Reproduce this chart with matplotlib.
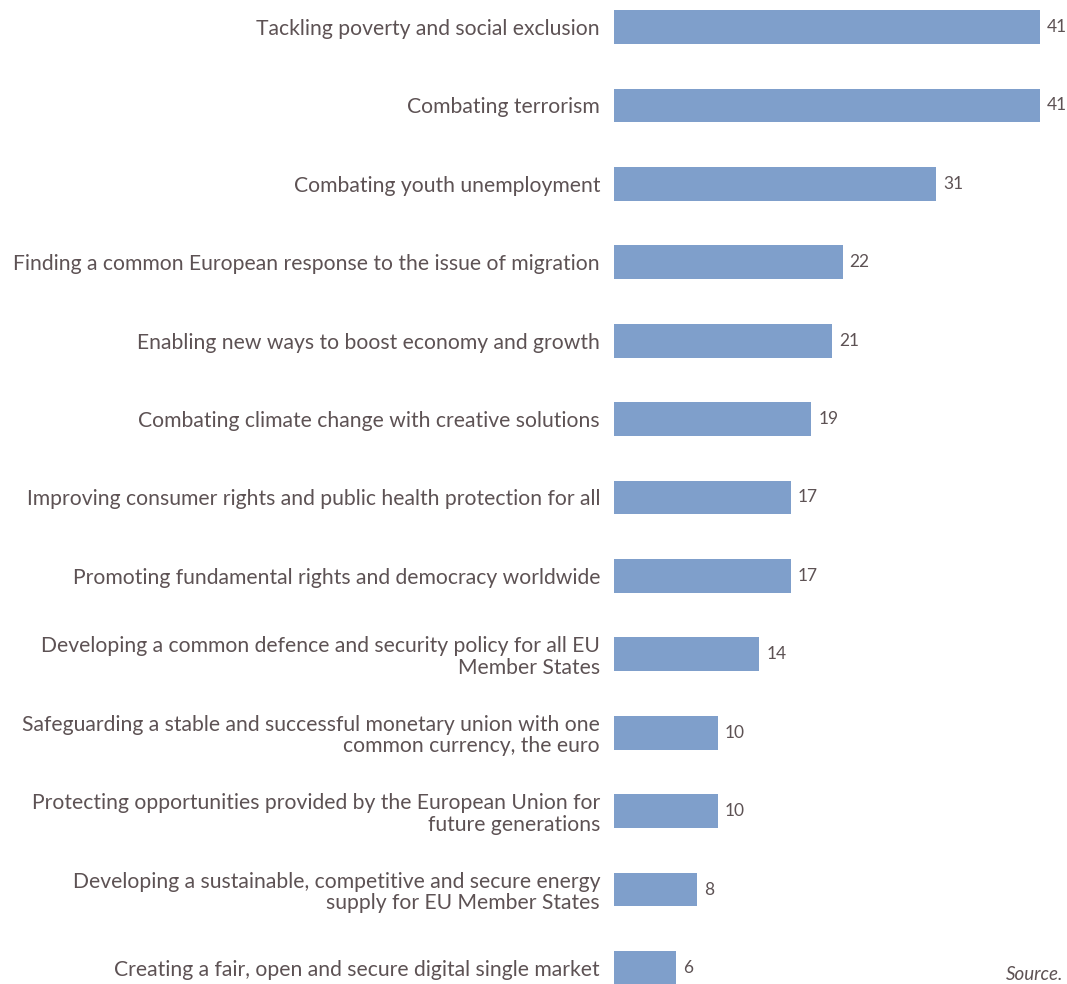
import matplotlib.pyplot as plt

categories = [
    "Tackling poverty and social exclusion",
    "Combating terrorism",
    "Combating youth unemployment",
    "Finding a common European response to the issue of migration",
    "Enabling new ways to boost economy and growth",
    "Combating climate change with creative solutions",
    "Improving consumer rights and public health protection for all",
    "Promoting fundamental rights and democracy worldwide",
    "Developing a common defence and security policy for all EU\nMember States",
    "Safeguarding a stable and successful monetary union with one\ncommon currency, the euro",
    "Protecting opportunities provided by the European Union for\nfuture generations",
    "Developing a sustainable, competitive and secure energy\nsupply for EU Member States",
    "Creating a fair, open and secure digital single market",
]
values = [41, 41, 31, 22, 21, 19, 17, 17, 14, 10, 10, 8, 6]

bar_color = "#7f9fcb"
text_color = "#5d5254"

plt.rcParams['font.family'] = ['Lato', 'DejaVu Sans']

fig = plt.figure(figsize=(10.67, 9.84), dpi=100)
ax = fig.add_axes([614 / 1067, 0, 1 - 614 / 1067, 1])

ypos = list(range(len(values)))
ax.barh(ypos, values, height=0.43, color=bar_color)
ax.set_xlim(0, 41 * (1067 - 614) / 426)
ax.set_ylim(12.204, -0.344)

ax.set_yticks(ypos)
ax.set_yticklabels(categories, fontsize=15.2, color=text_color, linespacing=1.1)
ax.tick_params(axis='y', length=0, pad=10)
ax.set_xticks([])
for s in ax.spines.values():
    s.set_visible(False)

for y, v in zip(ypos, values):
    ax.text(v + 0.65, y, str(v), va='center', ha='left', fontsize=12.5, color=text_color)

fig.text(1063 / 1067, 1 - 975 / 984, "Source.", fontsize=13.5, style='italic',
         color=text_color, ha='right', va='center')

fig.savefig("out.png", dpi=100)
